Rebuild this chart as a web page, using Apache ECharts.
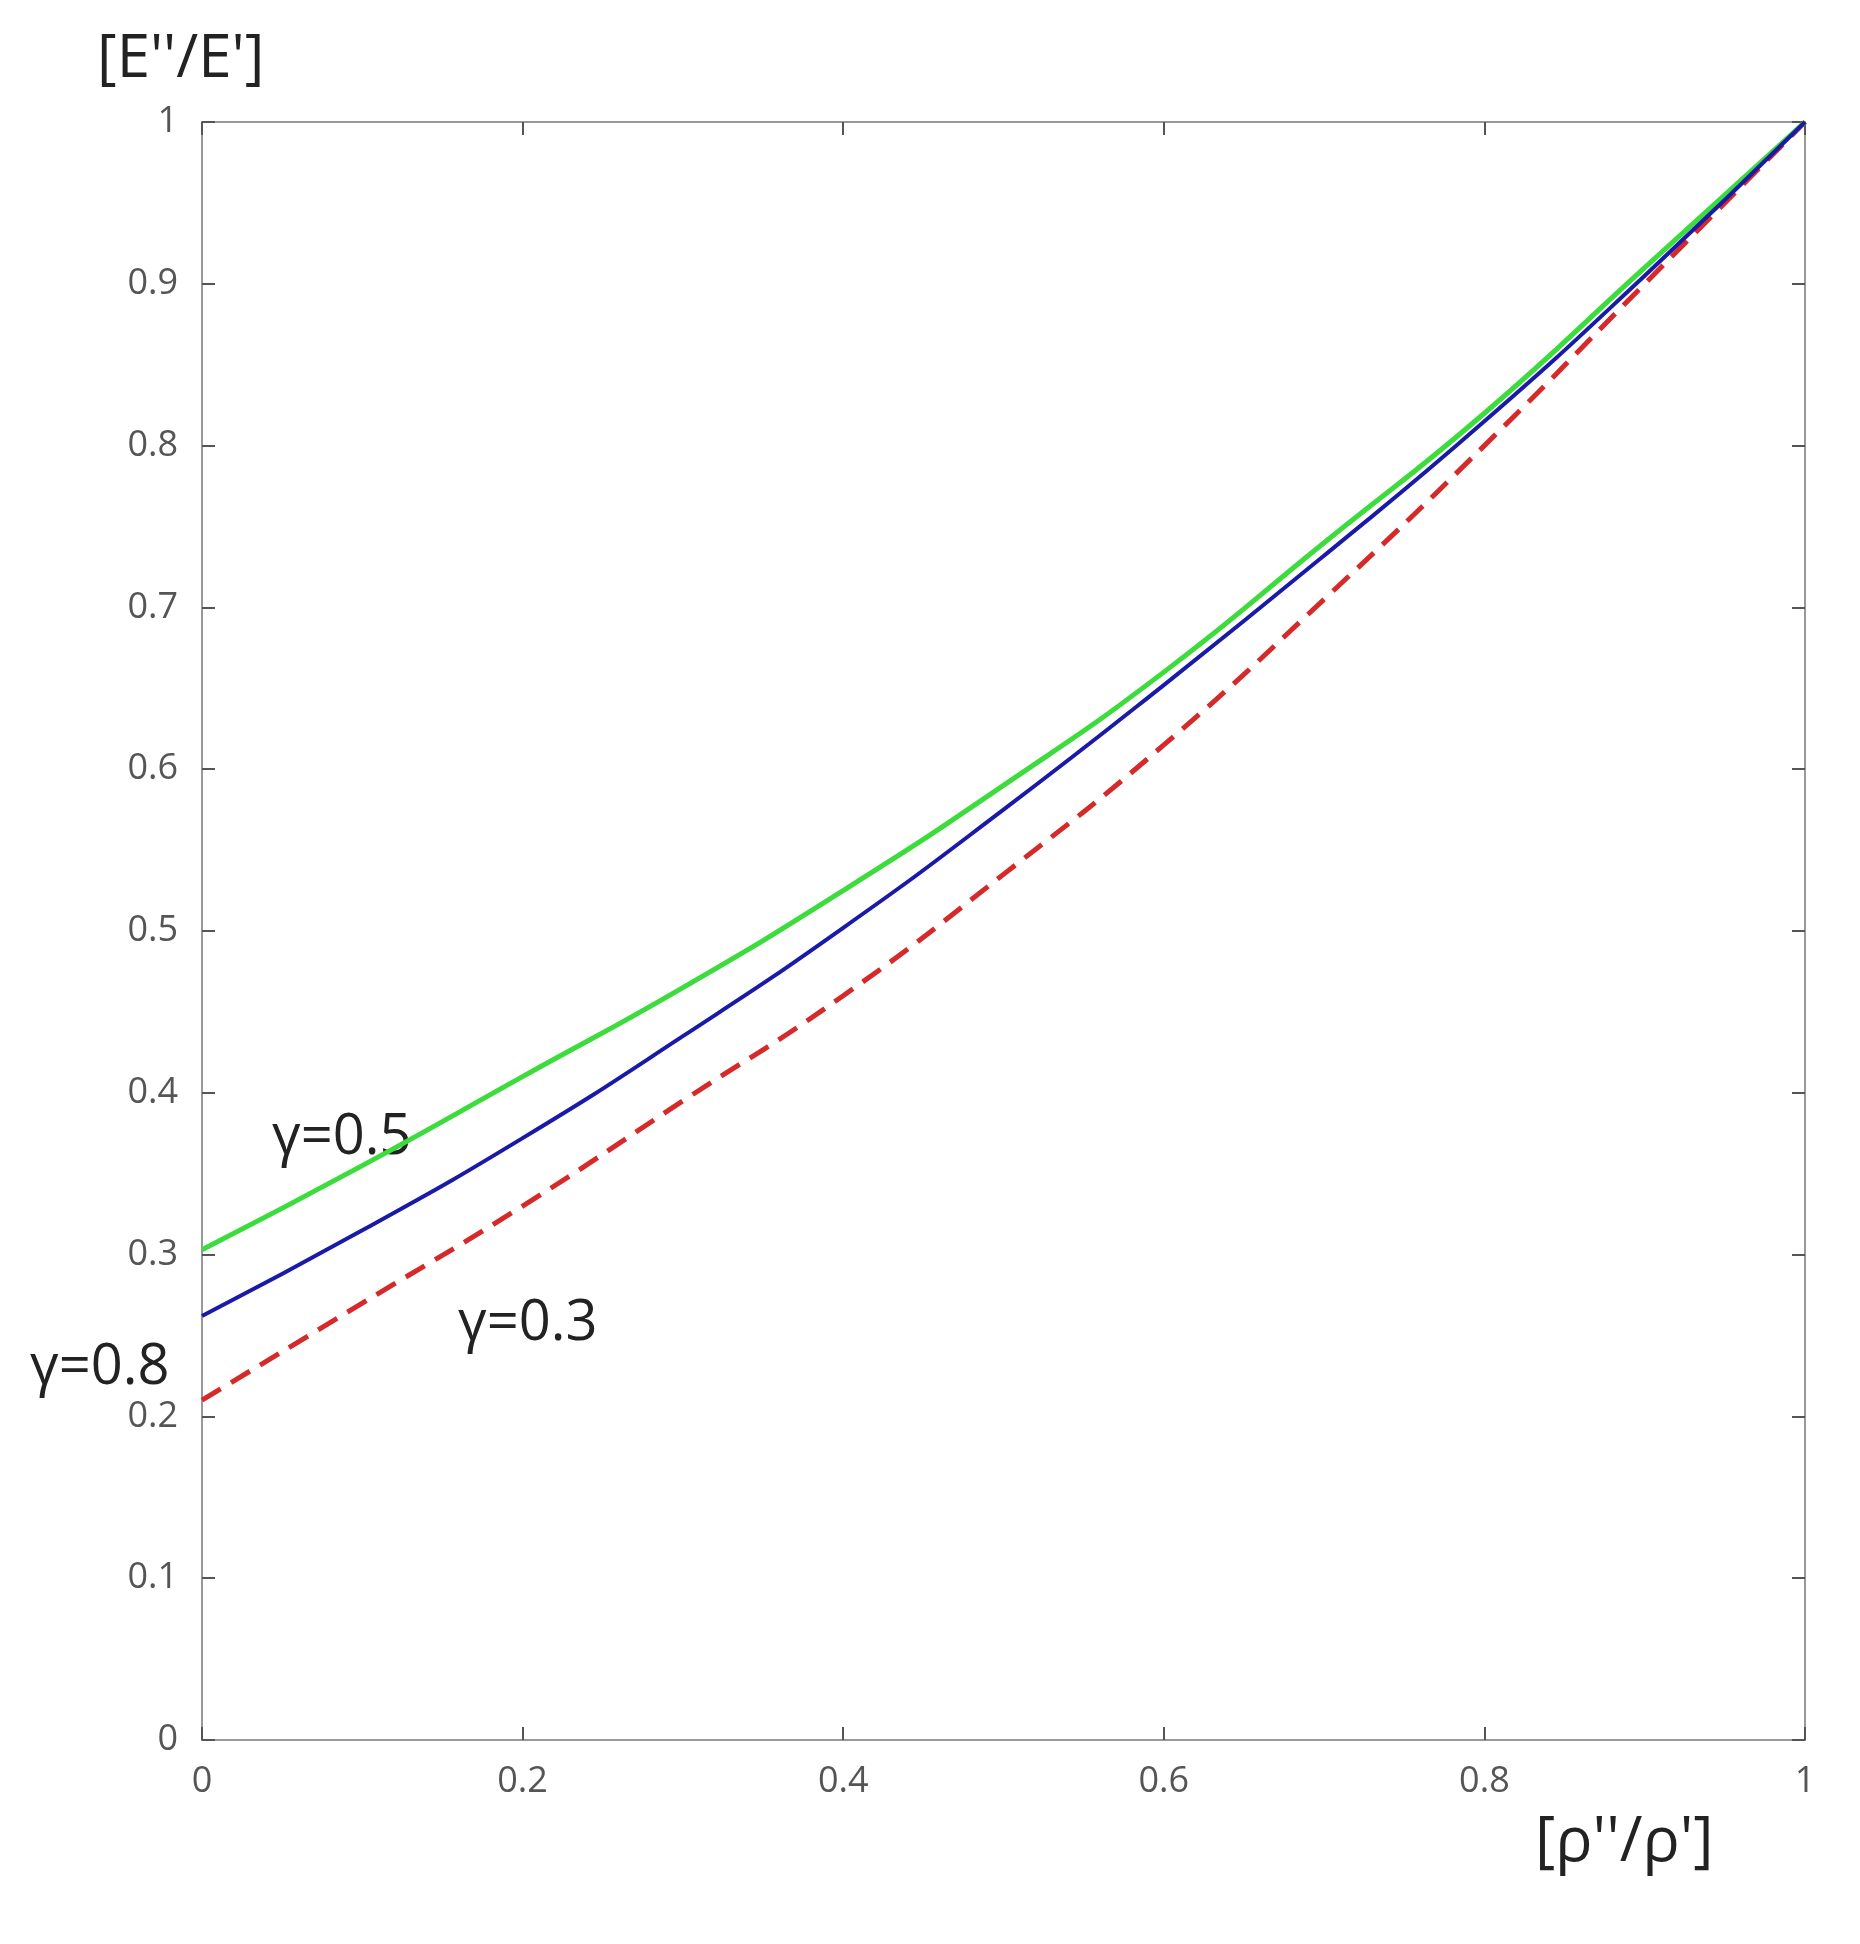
<!DOCTYPE html>
<html><head><meta charset="utf-8">
<script src="https://cdn.jsdelivr.net/npm/echarts@6/dist/echarts.min.js"></script>
<style>html,body{margin:0;background:#fff}#c{width:1860px;height:1944px}</style>
</head><body><div id="c"></div>
<script>
var xs = [0, 0.1, 0.2, 0.3, 0.4, 0.5, 0.6, 0.7, 0.8, 0.9, 1];
var g05 = [0.303, 0.355, 0.41, 0.465, 0.525, 0.59, 0.66, 0.74, 0.82, 0.91, 1];
var g08 = [0.262, 0.315, 0.372, 0.435, 0.502, 0.575, 0.652, 0.732, 0.815, 0.905, 1];
var g03 = [0.21, 0.27, 0.33, 0.395, 0.46, 0.535, 0.615, 0.705, 0.8, 0.9, 1];

var chart = echarts.init(document.getElementById('c'));
function pts(ys) { return xs.map(function (x, i) { return [x, ys[i]]; }); }
function fmt(v) { return Math.round(v * 10) / 10 + ''; }
var line = {onZero: false, lineStyle: {color: '#999', width: 2}};
var tick = {inside: true, length: 13, lineStyle: {color: '#555', width: 2}};
var lab = {margin: 24, fontSize: 36, color: '#555', fontFamily: 'Open Sans', formatter: fmt};
chart.setOption({
  animation: false,
  grid: {left: 202, right: 55, top: 122, bottom: 204},
  xAxis: [
    {type: 'value', min: 0, max: 1, interval: 0.2, axisLine: line, axisTick: tick, splitLine: {show: false}, axisLabel: lab},
    {type: 'value', position: 'top', min: 0, max: 1, interval: 0.2, axisLine: line, axisTick: tick,
     axisLabel: {show: false}, splitLine: {show: false}}
  ],
  yAxis: [
    {type: 'value', min: 0, max: 1, interval: 0.1, axisLine: line, axisTick: tick, splitLine: {show: false}, axisLabel: lab},
    {type: 'value', position: 'right', min: 0, max: 1, interval: 0.1, axisLine: line, axisTick: tick,
     axisLabel: {show: false}, splitLine: {show: false}}
  ],
  series: [
    {type: 'line', data: pts(g03), smooth: true, symbol: 'none', lineStyle: {color: '#d62a2a', width: 5, type: [22, 12]}},
    {type: 'line', data: pts(g05), smooth: true, symbol: 'none', lineStyle: {color: '#3cdc3c', width: 5}},
    {type: 'line', data: pts(g08), smooth: true, symbol: 'none', lineStyle: {color: '#1a1aa8', width: 4}}
  ],
  graphic: [
    {type: 'text', left: 97, top: 30, style: {text: "[E''/E']", fontSize: 60, fill: '#222', fontFamily: 'Open Sans'}},
    {type: 'text', left: 1535, top: 1812, style: {text: "[ρ''/ρ']", fontSize: 62, fill: '#222', fontFamily: 'Open Sans'}},
    {type: 'text', left: 272, top: 1110, style: {text: 'γ=0.5', fontSize: 56, fill: '#222', fontFamily: 'Open Sans'}},
    {type: 'text', left: 458, top: 1296, style: {text: 'γ=0.3', fontSize: 56, fill: '#222', fontFamily: 'Open Sans'}},
    {type: 'text', left: 30, top: 1340, style: {text: 'γ=0.8', fontSize: 56, fill: '#222', fontFamily: 'Open Sans'}}
  ]
});
</script></body></html>
